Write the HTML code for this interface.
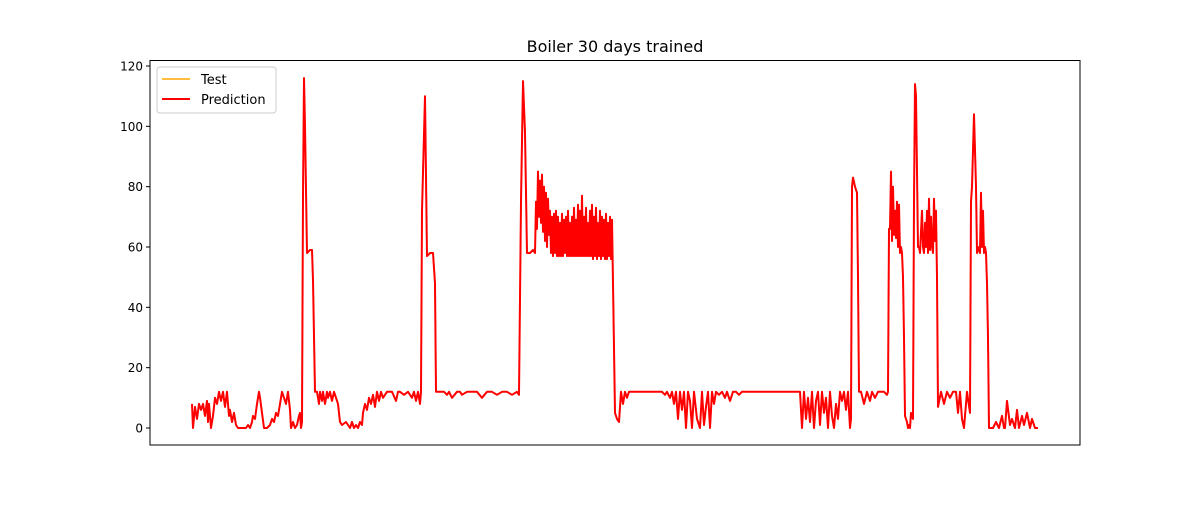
<!DOCTYPE html>
<html><head><meta charset="utf-8"><style>body{margin:0;background:#fff}svg text{font-family:"DejaVu Sans","Liberation Sans",sans-serif}</style></head>
<body>
<svg id="chart" width="1200" height="500" viewBox="0 0 1200 500" xmlns="http://www.w3.org/2000/svg">
<rect width="1200" height="500" fill="#fff"/>
<text x="615" y="52" font-size="16" text-anchor="middle">Boiler 30 days trained</text>
<g id="yaxis"></g>
<g id="series"></g>
<rect x="150" y="60.5" width="930" height="384.5" fill="none" stroke="#000" stroke-width="1"/>
<g>
<rect x="157" y="67" width="119" height="46" rx="3" fill="#fff" fill-opacity="0.8" stroke="#ccc"/>
<line x1="162" y1="79" x2="190" y2="79" stroke="orange" stroke-width="1.5"/>
<text x="201" y="84" font-size="13">Test</text>
<line x1="162" y1="99" x2="190" y2="99" stroke="red" stroke-width="2"/>
<text x="201" y="104" font-size="13">Prediction</text>
</g>
</svg>
<script>
const yTicks = [0, 20, 40, 60, 80, 100, 120];
// [time index, prediction value]
const predictionSamples = [
[0,8],[1,0],[3,7],[5,3],[7,8],[9,6],[11,8],[13,4],[15,9],[16,2],[17,8],[19,0],[21,4],[23,10],[25,8],[27,12],[29,9],[31,12],[33,7],[35,12],[37,4],[38,6],[40,2],[42,5],[44,1],[46,0],[50,0],[54,0],[56,1],[58,0],[60,2],[61,4],[63,3],[65,8],[67,12],[68,10],[70,5],[72,0],[75,0],[78,1],[80,3],[82,2],[84,5],[86,4],[88,8],[90,12],[92,10],[94,8],[96,12],[98,6],[99,0],[101,2],[103,0],[105,1],[107,4],[108,5],[109,0],[110,2],[111,77],[112,116],[113,100],[115,58],[118,59],[120,59],[121,49],[123,12],
[125,12],[127,8],[128,12],[130,9],[131,12],[133,8],[135,12],[136,10],[138,12],[140,9],[142,12],[144,10],[146,8],[148,2],[150,1],[154,2],[158,0],[160,2],[162,0],[164,1],[166,0],[168,2],[170,1],[171,5],[173,8],[175,6],[177,10],[179,8],[181,11],[183,7],[185,12],[187,9],[189,12],[191,10],[195,12],[200,12],[204,9],[206,12],[208,12],[212,11],[216,12],[220,10],[222,12],[224,9],[226,12],[228,8],[229,12],[230,72],[233,110],[235,57],[238,58],[241,58],[243,48],[244,12],
[248,12],[252,12],[255,11],[257,12],[260,10],[265,12],[268,12],[270,11],[275,12],[280,12],[285,12],[290,10],[295,12],[300,12],[305,11],[310,12],[315,12],[320,11],[325,12],[327,11],[329,75],[331,115],[333,98],[335,58],[338,58],[341,59],[343,58],[344,75],[345,66],[346,85],[347,70],[348,82],[349,68],[350,84],[351,65],[352,80],[353,62],[354,78],[355,60],[356,76],[357,64],[358,72],[359,58],[360,70],[361,57],[362,71],[363,58],
[364,72],[365,57],[366,70],[367,57],[368,68],[369,57],[370,71],[371,57],[372,69],[373,58],[374,70],[375,57],[376,72],[377,57],[378,68],[379,57],[380,70],[381,57],[382,73],[383,57],[384,69],[385,57],[386,74],[387,57],[388,72],[389,57],[390,77],[391,57],[392,70],[393,57],[394,73],[395,57],[396,68],[397,57],[398,72],[399,57],[400,74],[401,56],[402,70],[403,57],[404,73],[405,56],[406,68],[407,57],[408,72],[409,56],[410,70],[411,57],[412,69],[413,56],[414,71],[415,56],[416,68],[417,57],[418,70],[419,56],[420,69],[421,48],[423,5],
[425,3],[427,2],[429,12],[431,8],[433,12],[435,10],[437,12],[440,12],[443,12],[445,12],[448,12],[455,12],[460,12],[465,12],[470,12],[473,11],[475,12],[478,10],[480,12],[482,8],[484,12],[486,3],[488,12],[490,6],[492,12],[494,0],[496,12],[498,9],[500,0],[502,12],[505,3],[508,0],[510,12],[512,1],[514,7],[516,12],[518,0],[520,12],[522,8],[524,12],[527,11],[530,12],[533,10],[535,12],[538,9],[541,12],[544,12],[547,11],[550,12],[555,12],[560,12],[565,12],[570,12],[575,12],[580,12],[585,12],[590,12],[595,12],[600,12],[605,12],[608,12],
[610,0],[612,12],[614,3],[616,10],[618,2],[620,12],[622,0],[624,9],[626,12],[628,1],[630,12],[632,5],[634,10],[636,0],[638,12],[640,4],[642,0],[644,8],[646,3],[648,12],[650,9],[652,12],[654,6],[656,12],[658,0],[659,3],[660,80],[661,83],[663,80],[665,78],[666,50],[667,12],[669,12],
[672,8],[675,12],[678,9],[680,12],[683,10],[686,12],[689,12],[692,12],[695,11],[696,12],[697,66],[698,66],[699,85],[700,62],[701,80],[702,64],[703,72],[704,63],[705,75],[706,60],[707,74],[708,58],[709,60],[710,58],[711,50],[712,30],[713,4],[715,2],[716,0],[717,1],[718,0],[719,5],[721,3],[722,75],[723,114],[724,110],[726,60],[727,60],[728,58],[730,72],[731,60],[732,58],[733,68],[734,60],[735,72],[736,58],[737,76],[738,59],[739,70],[740,60],[741,58],[742,76],[743,62],[744,72],[745,50],[746,7],
[749,12],[752,8],[755,12],[758,10],[761,12],[764,12],[766,5],[768,12],[770,3],[772,0],[775,12],[778,5],[779,75],[780,80],[782,104],[784,80],[785,58],[787,60],[788,58],[789,78],[790,60],[791,72],[792,58],[793,60],[794,58],[795,48],[796,30],[797,0],[799,0],[800,0],[801,0],
[804,2],[807,0],[810,4],[812,0],[813,0],[815,9],[818,1],[820,3],[823,0],[825,6],[827,0],[830,4],[832,1],[835,5],[838,0],[840,3],[843,0],[846,0]
];
const timeIdx = predictionSamples.map(p => p[0]);
const predictionValues = predictionSamples.map(p => p[1]);
const testValues = predictionValues.slice();
const tMin = 0, tMax = 846;
const xPx = t => 192 + (t - tMin) / (tMax - tMin) * 846;
const yPx = v => 428 - v * (362 / 120);
const NS = 'http://www.w3.org/2000/svg';
const yaxis = document.getElementById('yaxis');
yTicks.forEach(v => {
  const y = yPx(v);
  const tk = document.createElementNS(NS, 'line');
  tk.setAttribute('x1', 146); tk.setAttribute('x2', 150);
  tk.setAttribute('y1', y); tk.setAttribute('y2', y);
  tk.setAttribute('stroke', '#000');
  
  
  yaxis.appendChild(tk);
  const lb = document.createElementNS(NS, 'text');
  lb.setAttribute('x', 143); lb.setAttribute('y', y + 4.5);
  lb.setAttribute('font-size', '12'); lb.setAttribute('text-anchor', 'end');
  lb.textContent = v;
  
  
  yaxis.appendChild(lb);
});
const series = document.getElementById('series');
function drawLine(vals, color, w, name) {
  const n = Math.min(vals.length, timeIdx.length);
  let d = '';
  for (let i = 0; i < n; i++) d += (i ? 'L' : 'M') + xPx(timeIdx[i]).toFixed(1) + ' ' + yPx(vals[i]).toFixed(1);
  const p = document.createElementNS(NS, 'path');
  p.setAttribute('d', d); p.setAttribute('fill', 'none');
  p.setAttribute('stroke', color); p.setAttribute('stroke-width', w);
  p.setAttribute('stroke-linejoin', 'round');
  
  
  series.appendChild(p);
}
drawLine(testValues, 'orange', 1.5, 'test-line');
drawLine(predictionValues, 'red', 2, 'prediction-line');
</script>
</body></html>
